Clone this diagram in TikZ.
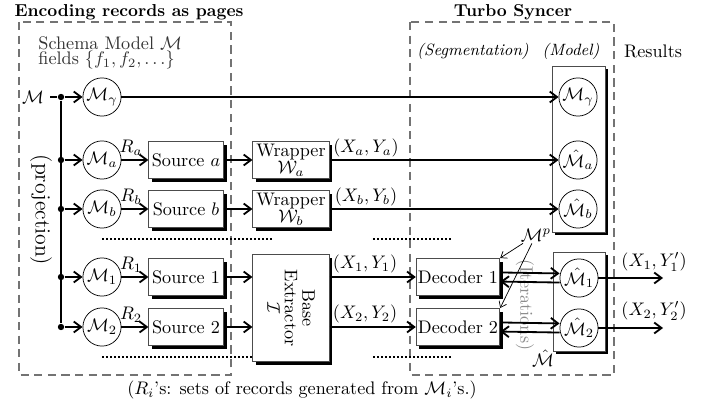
\documentclass[tikz,border=0pt]{standalone}
\usetikzlibrary{calc,arrows.meta,shadows}

\begin{document}
\begin{tikzpicture}[x=0.55pt,y=-0.55pt,
    >={Straight Barb[length=4pt,width=6pt]},
    flow/.style={->,line width=1pt},
    wire/.style={line width=1pt},
    model/.style={circle,draw,fill=white,minimum size=21pt,inner sep=0pt},
    boxed/.style={draw=black!70,fill=white,
        drop shadow={shadow xshift=1.8pt,shadow yshift=-1.8pt,opacity=1,fill=black}},
    block/.style={boxed,minimum width=41pt,minimum height=20.5pt,inner sep=0.5pt,
        align=center,font=\linespread{0.8}\selectfont},
    frame/.style={draw=black!55,dash pattern=on 4.5pt off 3pt,line width=0.6pt},
    heading/.style={font=\fontsize{9.5pt}{11pt}\selectfont\bfseries},
    junction/.style={circle,fill,inner sep=0pt,minimum size=3.5pt},
    tag/.style={inner sep=1pt},
    gap/.style={line width=1.1pt,dash pattern=on 1.1pt off 1.1pt}]

    \useasboundingbox (0,0) rectangle (705,403);

    % frames and headings
        \draw[frame] (19,22) rectangle (231,375);
        \draw[frame] (410,22) rectangle (614,375);
        \node[heading] (T1) at (129,12) {Encoding records as pages};
        \node[heading] (T2) at (513,12) {Turbo Syncer};
        \node[anchor=west,text=black!80] (S1txt) at (32,43) {Schema Model $\mathcal M$};
        \node[anchor=west,text=black!80] (S2txt) at (32,60) {fields $\{f_1, f_2, \ldots\}$};
        \node[font=\small\itshape] (Seg) at (473,51) {(Segmentation)};
        \node[font=\small\itshape] (Mod) at (571,51) {(Model)};
        \node (Res) at (653,51) {Results};
        \node[rotate=-90,font=\large] (Proj) at (41,210) {(projection)};
        \node (Cap) at (302,390) {($R_i$'s: sets of records generated from $\mathcal M_i$'s.)};

    % gaps between the rows
        \draw[gap] (102,239) -- (272,239);
        \draw[gap] (373,239) -- (452,239);
        \draw[gap] (102,357) -- (272,357);
        \draw[gap] (373,357) -- (452,357);

    % projected models
        \node (M) at (33,97) {$\mathcal M$};
        \node[junction] (J0) at (61,97) {};
        \node[junction] (Ja) at (61,160) {};
        \node[junction] (Jb) at (61,209) {};
        \node[junction] (J1) at (61,277) {};
        \node[junction] (J2) at (61,327) {};
        \node[model] (Mg) at (102,97) {$\mathcal M_\gamma$};
        \node[model] (Ma) at (102,160) {$\mathcal M_a$};
        \node[model] (Mb) at (102,209) {$\mathcal M_b$};
        \node[model] (M1) at (102,277) {$\mathcal M_1$};
        \node[model] (M2) at (102,327) {$\mathcal M_2$};
        \node[tag] (Ra) at (131,148) {$R_a$};
        \node[tag] (Rb) at (131,197) {$R_b$};
        \node[tag] (R1) at (131,265) {$R_1$};
        \node[tag] (R2) at (131,315) {$R_2$};

    % sources, wrappers and base extractor
        \node[block] (Sa) at (186,160) {Source $a$};
        \node[block] (Sb) at (186,209) {Source $b$};
        \node[block] (Sc) at (186,277) {Source 1};
        \node[block] (Sd) at (186,327) {Source 2};
        \node[block,minimum width=42pt] (Wa) at (291,160) {Wrapper\\$\mathcal W_a$};
        \node[block,minimum width=42pt] (Wb) at (291,209) {Wrapper\\$\mathcal W_b$};
        \node[block,minimum width=42pt,minimum height=59pt] (E) at (291,308) {};
        \node[rotate=-90,align=center,font=\linespread{0.8}\selectfont] (Etxt) at (E) {Base\\Extractor\\$\mathcal I$};
        \node[tag] (XYa) at (366,148) {$(X_a,Y_a)$};
        \node[tag] (XYb) at (366,197) {$(X_b,Y_b)$};
        \node[tag] (XY1) at (365,264) {$(X_1,Y_1)$};
        \node[tag] (XY2) at (365,314) {$(X_2,Y_2)$};

    % decoders and model
        \node[block,minimum width=46pt] (D1) at (458,277) {Decoder 1};
        \node[block,minimum width=46pt] (D2) at (458,327) {Decoder 2};
        \draw[boxed] (552,66) rectangle (605,232);
        \draw[boxed] (553,252) rectangle (605,351);
        \node[model] (Hg) at (578,97) {$\mathcal M_\gamma$};
        \node[model] (Ha) at (578,160) {$\hat{\mathcal M}_a$};
        \node[model] (Hb) at (578,209) {$\hat{\mathcal M}_b$};
        \node[model] (H1) at (579,278) {$\hat{\mathcal M}_1$};
        \node[model] (H2) at (579,328) {$\hat{\mathcal M}_2$};
        \node[rotate=-90,text=black!45,inner sep=1pt] (It) at (525,305) {(Iterations)};
        \node[tag] (Mp) at (536,235) {$\mathcal M^p$};
        \node[tag] (Mh) at (543,358) {$\hat{\mathcal M}$};
        \coordinate (O1) at (663,278);
        \coordinate (O2) at (663,328);
        \node[tag] (XO1) at (654,262) {$(X_1,Y_1')$};
        \node[tag] (XO2) at (654,311) {$(X_2,Y_2')$};

    % connectors
        \draw[wire] (M) -- (J0);
        \draw[wire] (J0) -- (J2);
        \draw[flow] (J0) -- (Mg);
        \foreach \r in {a,b,1,2}
            \draw[flow] (J\r) -- (M\r);
        \draw[flow] (Ma) -- (Sa);
        \draw[flow] (Mb) -- (Sb);
        \draw[flow] (M1) -- (Sc);
        \draw[flow] (M2) -- (Sd);
        \draw[flow] (Sa) -- (Wa);
        \draw[flow] (Sb) -- (Wb);
        \draw[flow] (Sc) -- (Sc -| E.west);
        \draw[flow] (Sd) -- (Sd -| E.west);
        \draw[flow] (Mg) -- (Hg);
        \draw[flow] (Wa) -- (Ha);
        \draw[flow] (Wb) -- (Hb);
        \draw[flow] (E.east |- D1) -- (D1);
        \draw[flow] (E.east |- D2) -- (D2);
        \draw[flow] ([yshift=2.5pt]D1.east) -- ([yshift=2.5pt]H1.west);
        \draw[flow] ([yshift=-2.5pt]H1.west) -- ([yshift=-2.5pt]D1.east);
        \draw[flow] ([yshift=2.5pt]D2.east) -- ([yshift=2.5pt]H2.west);
        \draw[flow] ([yshift=-2.5pt]H2.west) -- ([yshift=-2.5pt]D2.east);
        \draw[flow] (H1) -- (O1);
        \draw[flow] (H2) -- (O2);
        \draw[->,thin,>={Straight Barb[length=3pt,width=4.5pt]}] (Mp) -- (D1.north east);
        \draw[->,thin,>={Straight Barb[length=3pt,width=4.5pt]}] (Mp) -- (D2.north east);
\end{tikzpicture}
\end{document}
